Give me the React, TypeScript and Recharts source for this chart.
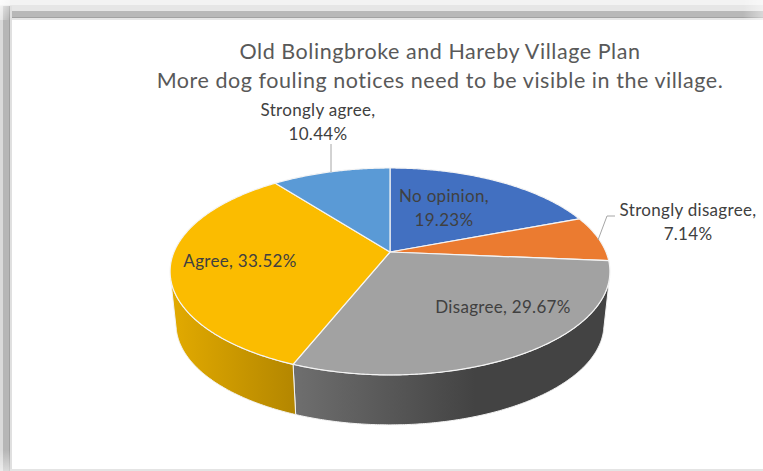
import { PieChart, Pie } from "recharts"

const categories = ["No opinion", "Strongly disagree", "Disagree", "Agree", "Strongly agree"]
const shares = [19.23, 7.14, 29.67, 33.52, 10.44]
const titleLines = [
  "Old Bolingbroke and Hareby Village Plan",
  "More dog fouling notices need to be visible in the village."
]

const pieData = categories.map((name, i) => ({ name, value: shares[i] }))

const topColors = ["#4270C1", "#EB7B30", "#A2A2A2", "#FBBC00", "#5A9AD6"]
const wallFills = ["#2F5597", "#B85F24", "url(#wallGrey)", "url(#wallYellow)", "#41719C"]

// where each data label sits, lines are stacked from the first baseline
const labelLayout = [
  { x: 444, y: 202, lines: 2 },
  { x: 688, y: 216, lines: 2 },
  { x: 503, y: 313, lines: 1 },
  { x: 240, y: 267, lines: 1 },
  { x: 318, y: 116, lines: 2 }
]
const leaders: Record<number, string> = {
  1: "M615,216L607,216L598,240",
  4: "M331,144L331,172"
}

// tilt of the disc: a simple perspective projection of the circle
const PERSPECTIVE = 0.188
const SQUASH = 0.462
const WALL_DROP = 53.3
const WALL_SCALE = 0.973
const RADIAN = Math.PI / 180

const rimPoint = (angle: number, radius: number, cx: number, cy: number, scale = 1, drop = 0) => {
  const u = Math.cos(angle * RADIAN)
  const v = Math.sin(angle * RADIAN)
  const d = 1 + PERSPECTIVE * v
  return [cx + (scale * radius * u) / d, cy + drop - (scale * radius * SQUASH * v) / d]
}

const rimPoints = (props: any, scale = 1, drop = 0) => {
  const { startAngle, endAngle, outerRadius, cx, cy } = props
  const steps = Math.max(2, Math.ceil(Math.abs(endAngle - startAngle) * 2))
  const points = []
  for (let i = 0; i <= steps; i++) {
    const angle = startAngle + ((endAngle - startAngle) * i) / steps
    points.push(rimPoint(angle, outerRadius, cx, cy, scale, drop))
  }
  return points
}

const toPath = (points: number[][]) =>
  "M" + points.map((p) => `${p[0].toFixed(2)},${p[1].toFixed(2)}`).join("L") + "Z"

const renderTop = (props: any) => (
  <path
    d={toPath([[props.cx, props.cy], ...rimPoints(props)])}
    fill={topColors[props.index]}
    stroke="#F4F4F4"
    strokeWidth={1.2}
    strokeLinejoin="round"
  />
)

// only the part of the rim that faces the viewer gets a wall
const renderWall = (props: any) => {
  const top = rimPoints(props)
  const bottom = rimPoints(props, WALL_SCALE, WALL_DROP)
  const keep: number[] = []
  for (let i = 0; i < top.length - 1; i++) {
    const dx = top[i + 1][0] - top[i][0]
    const dy = top[i + 1][1] - top[i][1]
    const wx = bottom[i][0] - top[i][0]
    const wy = bottom[i][1] - top[i][1]
    if (dx * wy - dy * wx < 0) {
      keep.push(i)
    }
  }
  if (keep.length === 0) {
    return <g />
  }
  const from = keep[0]
  const to = keep[keep.length - 1] + 2
  return (
    <path
      d={toPath([...top.slice(from, to), ...bottom.slice(from, to).reverse()])}
      fill={wallFills[props.index]}
      stroke="#F4F4F4"
      strokeWidth={1}
    />
  )
}

const renderLabel = ({ index }: any) => {
  const box = labelLayout[index]
  const text = `${shares[index].toFixed(2)}%`
  return (
    <g key={categories[index]}>
      {leaders[index] && <path d={leaders[index]} fill="none" stroke="#A6A6A6" strokeWidth={1} />}
      <text x={box.x} y={box.y} textAnchor="middle" fontFamily="Lato" fontSize={17} letterSpacing={0.3} fill="#404040">
        {box.lines === 2 ? (
          <>
            <tspan x={box.x}>{categories[index]},</tspan>
            <tspan x={box.x} dy={23.5}>{text}</tspan>
          </>
        ) : (
          `${categories[index]}, ${text}`
        )}
      </text>
    </g>
  )
}

const band = (style: React.CSSProperties) => <div style={{ position: "absolute", ...style }} />

export default function App() {
  return (
    <div style={{ position: "absolute", left: 0, top: 0, width: 763, height: 471, overflow: "hidden", background: "#fff" }}>
      {band({
        left: 0, top: 0, width: 763, height: 20,
        background: "linear-gradient(to bottom, #F3F3F3 0 5px, #E6E6E6 5px 11px, #B8B8B8 11px 17px, #A2A2A2 17px 18px, #E6E6E6 18px 20px)"
      })}
      {band({
        left: 0, top: 6, width: 12, height: 465,
        background: "linear-gradient(to right, #DADADA 0 3px, #B6B6B6 3px 9px, #A0A0A0 9px 10px, #E0E0E0 10px 12px)"
      })}
      {/* the shadow fades out at the corners */}
      {band({
        left: 0, top: 0, width: 10, height: 20,
        background: "linear-gradient(to bottom right, rgba(255,255,255,0.8), rgba(255,255,255,0))"
      })}
      {band({
        left: 0, top: 450, width: 10, height: 21,
        background: "linear-gradient(to bottom, rgba(255,255,255,0), rgba(255,255,255,0.5))"
      })}
      {band({
        left: 743, top: 0, width: 20, height: 20,
        background: "linear-gradient(to right, rgba(255,255,255,0), rgba(255,255,255,0.45))"
      })}
      {band({ left: 10, top: 469, width: 753, height: 2, background: "#E4E4E4" })}
      <div style={{ position: "absolute", left: 0, top: 0 }}>
        <PieChart width={763} height={471} margin={{ top: 0, right: 0, bottom: 0, left: 0 }}>
          <defs>
            <linearGradient id="wallYellow" gradientUnits="userSpaceOnUse" x1={172} y1={0} x2={296} y2={0}>
              <stop offset="0%" stopColor="#E2AA00" />
              <stop offset="100%" stopColor="#B38600" />
            </linearGradient>
            <linearGradient id="wallGrey" gradientUnits="userSpaceOnUse" x1={296} y1={0} x2={475} y2={0}>
              <stop offset="0%" stopColor="#6E6E6E" />
              <stop offset="100%" stopColor="#434343" />
            </linearGradient>
          </defs>
          <text textAnchor="middle" fontFamily="Lato" fontSize={21.5} letterSpacing={0.55} fill="#595959">
            <tspan x={440} y={59}>{titleLines[0]}</tspan>
            <tspan x={440} y={88}>{titleLines[1]}</tspan>
          </text>
          <Pie
            data={pieData}
            dataKey="value"
            cx={390}
            cy={252}
            outerRadius={216}
            startAngle={90}
            endAngle={-270}
            shape={renderWall}
            label={false}
            labelLine={false}
            isAnimationActive={false}
          />
          <Pie
            data={pieData}
            dataKey="value"
            cx={390}
            cy={252}
            outerRadius={216}
            startAngle={90}
            endAngle={-270}
            shape={renderTop}
            label={renderLabel}
            labelLine={false}
            isAnimationActive={false}
          />
        </PieChart>
      </div>
    </div>
  )
}
